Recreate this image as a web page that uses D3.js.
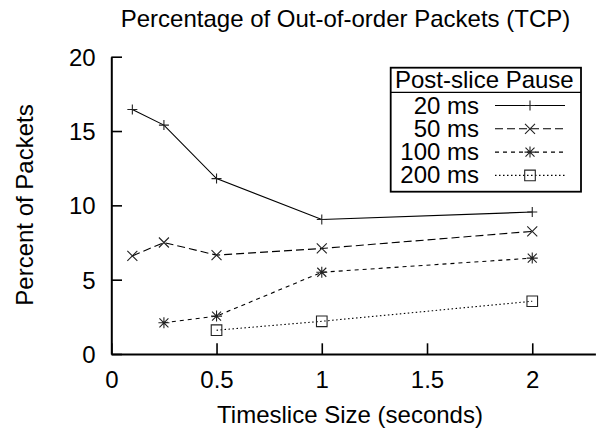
<!DOCTYPE html>
<html>
<head>
<meta charset="utf-8">
<script src="https://cdn.jsdelivr.net/npm/d3@7"></script>
<style>
  html, body { margin: 0; padding: 0; background: #fff; }
  text { font-family: "Liberation Sans", Arial, Helvetica, sans-serif; fill: #000; }
</style>
</head>
<body>
<svg id="chart" width="598" height="430"></svg>
<script>
// ---- data ----
const seriesNames = ["20 ms", "50 ms", "100 ms", "200 ms"];
const x20 = [0.1, 0.25, 0.5, 1, 2];
const v20 = [16.45, 15.4, 11.8, 9.05, 9.55];
const x50 = [0.1, 0.25, 0.5, 1, 2];
const v50 = [6.6, 7.5, 6.65, 7.1, 8.25];
const x100 = [0.25, 0.5, 1, 2];
const v100 = [2.1, 2.55, 5.5, 6.45];
const x200 = [0.5, 1, 2];
const v200 = [1.6, 2.2, 3.55];
const xTickValues = [0, 0.5, 1, 1.5, 2];
const xTickLabels = ["0", "0.5", "1", "1.5", "2"];
const yTickValues = [0, 5, 10, 15, 20];
const yTickLabels = ["0", "5", "10", "15", "20"];
const titleText = "Percentage of Out-of-order Packets (TCP)";
const xLabel = "Timeslice Size (seconds)";
const yLabel = "Percent of Packets";
const legendTitle = "Post-slice Pause";

// ---- layout ----
const svg = d3.select("#chart");
const FS = 24;
const x = d3.scaleLinear().domain([0, 2.3]).range([111.3, 595.4]);
const y = d3.scaleLinear().domain([0, 20]).range([354, 56.7]);

const series = [
  { name: seriesNames[0], xs: x20, vs: v20, dash: null, marker: "plus" },
  { name: seriesNames[1], xs: x50, vs: v50, dash: "8,4", marker: "cross" },
  { name: seriesNames[2], xs: x100, vs: v100, dash: "4,4", marker: "star" },
  { name: seriesNames[3], xs: x200, vs: v200, dash: "1.5,2.5", marker: "square" }
];

const markerPath = {
  plus: "M-5,0H5M0,-5V5",
  cross: "M-5,-5L5,5M-5,5L5,-5",
  star: "M-5.5,0H5.5M0,-5.5V5.5M-4.5,-4.5L4.5,4.5M-4.5,4.5L4.5,-4.5",
  square: "M-5.3,-5.3H5.3V5.3H-5.3Z"
};

// title
svg.append("text").attr("x", 345.5).attr("y", 27).attr("text-anchor", "middle")
  .attr("font-size", FS).text(titleText);

// axes
const xAxis = d3.axisBottom(x).tickValues(xTickValues)
  .tickFormat((d, i) => xTickLabels[i]).tickSizeInner(-10.7).tickSizeOuter(0).tickPadding(17);
const yAxis = d3.axisLeft(y).tickValues(yTickValues)
  .tickFormat((d, i) => yTickLabels[i]).tickSizeInner(-10.7).tickSizeOuter(0).tickPadding(15.6);

const gx = svg.append("g").attr("transform", `translate(0,${y(0)})`).call(xAxis);
const gy = svg.append("g").attr("transform", `translate(${x(0)},0)`).call(yAxis);
[gx, gy].forEach(g => {
  g.selectAll("text").attr("font-size", FS).attr("font-family", null).style("fill", "#000");
  g.select(".domain").attr("stroke", "#000").attr("stroke-width", 2);
  g.selectAll(".tick line").attr("stroke", "#000").attr("stroke-width", 1.6);
  g.attr("font-family", null).attr("font-size", null);
});
gy.selectAll("text").attr("dy", "0.35em");

// axis labels
svg.append("text").attr("x", 350).attr("y", 423).attr("text-anchor", "middle")
  .attr("font-size", FS).text(xLabel);
svg.append("text").attr("transform", "translate(32.5,205) rotate(-90)")
  .attr("text-anchor", "middle").attr("font-size", FS).text(yLabel);

// lines and markers
const line = d3.line().x(d => x(d[0])).y(d => y(d[1]));
series.forEach(s => {
  const pts = s.xs.map((xv, i) => [xv, s.vs[i]]);
  svg.append("path").datum(pts).attr("d", line)
    .attr("fill", "none").attr("stroke", "#000").attr("stroke-width", 1.1)
    .attr("stroke-dasharray", s.dash);
  svg.append("g").selectAll("path").data(pts).join("path")
    .attr("transform", d => `translate(${x(d[0])},${y(d[1])})`)
    .attr("d", markerPath[s.marker])
    .attr("fill", "none").attr("stroke", "#222").attr("stroke-width", 1.1);
});

// legend
const lg = svg.append("g");
const L = { x0: 390.7, y0: 67.7, x1: 581, y1: 191.7, sep: 92.3 };
lg.append("rect").attr("x", L.x0).attr("y", L.y0).attr("width", L.x1 - L.x0).attr("height", L.y1 - L.y0)
  .attr("fill", "#fff").attr("stroke", "#000").attr("stroke-width", 1.8);
lg.append("line").attr("x1", L.x0).attr("x2", L.x1).attr("y1", L.sep).attr("y2", L.sep)
  .attr("stroke", "#000").attr("stroke-width", 1.2);
lg.append("text").attr("x", (L.x0 + L.x1) / 2 - 1.5).attr("y", 88.3).attr("text-anchor", "middle")
  .attr("font-size", FS).text(legendTitle);
series.forEach((s, i) => {
  const base = 113.5 + i * 23.3;
  lg.append("text").attr("x", 479).attr("y", base).attr("text-anchor", "end")
    .attr("font-size", FS).text(s.name);
  const ly = base - 8;
  lg.append("line").attr("x1", 495).attr("x2", 565).attr("y1", ly).attr("y2", ly)
    .attr("stroke", "#000").attr("stroke-width", 1.1).attr("stroke-dasharray", s.dash);
  lg.append("path").attr("transform", `translate(530,${ly})`).attr("d", markerPath[s.marker])
    .attr("fill", "none").attr("stroke", "#222").attr("stroke-width", 1.1);
});
</script>
</body>
</html>
